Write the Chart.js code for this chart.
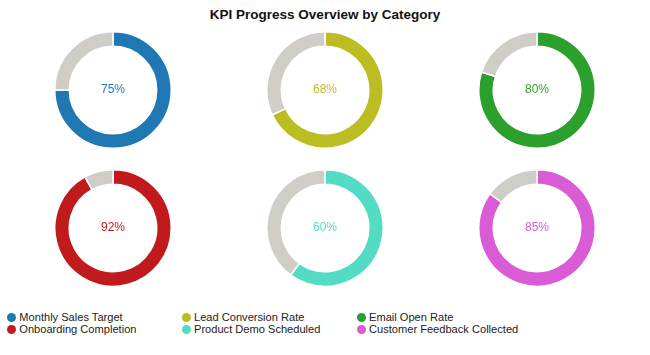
<!DOCTYPE html>
<html><head><meta charset="utf-8">
<script src="https://cdn.jsdelivr.net/npm/chart.js@4.4.0/dist/chart.umd.min.js"></script>
<style>
html,body{margin:0;padding:0;background:#fff;width:650px;height:355px;overflow:hidden;font-family:"Liberation Sans",Arial,sans-serif;}
#title{position:absolute;left:0;width:650px;top:7px;text-align:center;font-weight:bold;font-size:13.5px;line-height:16px;color:#111;}
.cell{position:absolute;width:118px;height:118px;}
.leg{position:absolute;font-size:11.1px;color:#222;white-space:nowrap;line-height:12px;}
.dot{position:absolute;width:9px;height:9px;border-radius:50%;}
</style></head><body>
<div id="title">KPI Progress Overview by Category</div>
<div id="charts"></div>
<div id="legend"></div>
<script>
const categories = ["Monthly Sales Target","Lead Conversion Rate","Email Open Rate","Onboarding Completion","Product Demo Scheduled","Customer Feedback Collected"];
const values = [75, 68, 80, 92, 60, 85];
const colors = ["#1f77b4","#bcbd22","#2ca02c","#c01a1c","#52dcc3","#da5bd6"];
const remainderColor = "#d0cdc6";

const centers = [[113,89.5],[325,89.5],[537,89.5],[113,228],[325,228],[537,228]];
const holder = document.getElementById('charts');

const centerText = {
  id:'centerText',
  afterDraw(chart){
    const {ctx, chartArea} = chart;
    const o = chart.options.plugins.centerText;
    ctx.save();
    ctx.font = '12px "Liberation Sans", Arial, sans-serif';
    ctx.fillStyle = o.color;
    ctx.textAlign='center'; ctx.textBaseline='middle';
    ctx.fillText(o.text, (chartArea.left+chartArea.right)/2, (chartArea.top+chartArea.bottom)/2);
    ctx.restore();
  }
};

categories.forEach((cat,i)=>{
  const d = document.createElement('div');
  d.className='cell';
  d.style.left=(centers[i][0]-59)+'px';
  d.style.top=(centers[i][1]-59)+'px';
  const c = document.createElement('canvas');
  d.appendChild(c); holder.appendChild(d);
  new Chart(c,{
    type:'doughnut',
    data:{labels:[cat,'Remaining'],datasets:[{data:[values[i],100-values[i]],backgroundColor:[colors[i],remainderColor],borderColor:'#fff',borderWidth:1.5}]},
    options:{responsive:true,maintainAspectRatio:false,animation:false,cutout:'75%',
      layout:{padding:0},
      plugins:{legend:{display:false},tooltip:{enabled:false},title:{display:false},
        centerText:{text:values[i]+'%',color:colors[i]}}},
    plugins:[centerText]
  });
});

const legend = document.getElementById('legend');
const colX = [[11,19.3],[186,194],[361,369]];
const rowY = [317.5,329];
categories.forEach((cat,i)=>{
  const col=i%3,row=Math.floor(i/3);
  const dot=document.createElement('div');dot.className='dot';
  dot.style.background=colors[i];
  dot.style.left=(colX[col][0]-4.5)+'px';dot.style.top=(rowY[row]-4.5)+'px';
  legend.appendChild(dot);
  const t=document.createElement('div');t.className='leg';t.textContent=cat;
  t.style.left=colX[col][1]+'px';t.style.top=(rowY[row]-6.5)+'px';
  legend.appendChild(t);
});
</script>
</body></html>
